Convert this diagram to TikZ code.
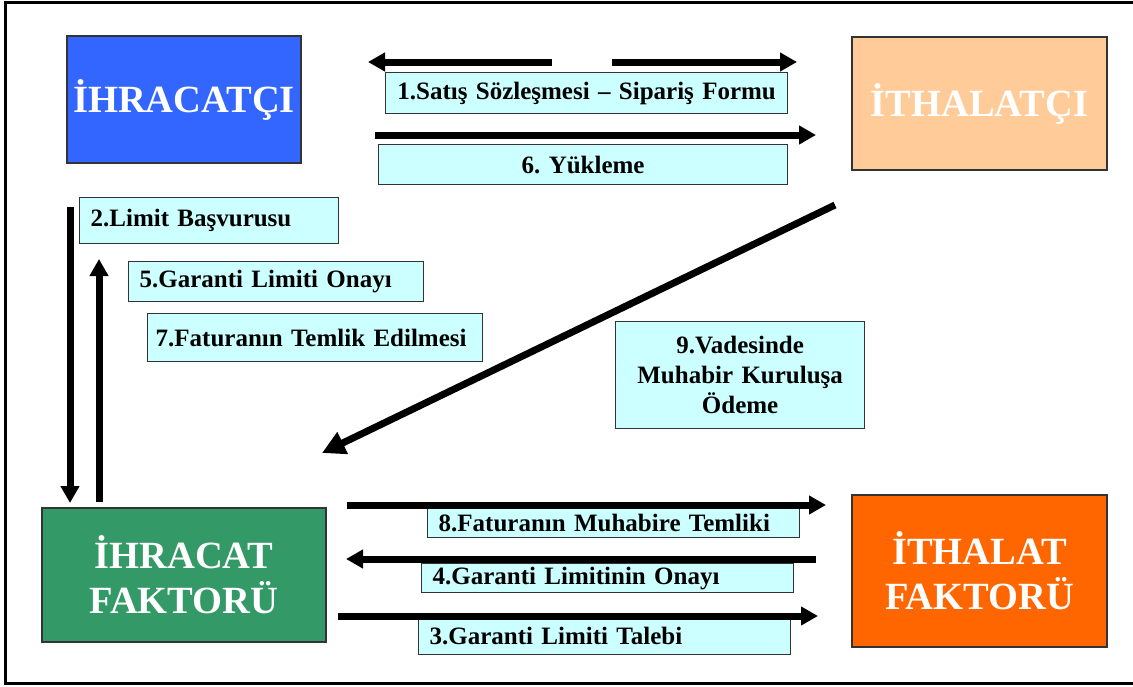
\documentclass[tikz,border=0pt]{standalone}
\usepackage{fontspec}
\setmainfont{Liberation Serif}
\usetikzlibrary{arrows.meta}
\frenchspacing

\definecolor{exblue}{HTML}{3366FF}
\definecolor{impeach}{HTML}{FFCC99}
\definecolor{efgreen}{HTML}{339966}
\definecolor{iforange}{HTML}{FF6600}
\definecolor{lblfill}{HTML}{CCFFFF}
\definecolor{edge}{HTML}{333333}

\tikzset{
  party/.style={draw=edge, line width=1.5pt, text=white, align=center, inner sep=0pt,
    font=\bfseries\fontsize{38.5}{45}\selectfont},
  lbl/.style={draw=edge, fill=lblfill, line width=1.3pt, anchor=north west, inner sep=0pt,
    font=\bfseries\fontsize{25}{30}\selectfont},
  flow/.style={line width=7pt, -{Triangle[length=17pt,width=18pt]}},
  bigflow/.style={line width=7pt, -{Triangle[length=23pt,width=23pt]}},
  frame/.style={line width=3pt}
}

\begin{document}
\begin{tikzpicture}[x=1pt,y=-1pt]
\useasboundingbox (0,0) rectangle (1133,686);
\draw[frame] (5,2) rectangle (1136,683);

% parties
\node[party, fill=exblue, minimum width=234pt, minimum height=127pt] (exp) at (184,99.5) {İHRACATÇI};
\node[party, fill=impeach, minimum width=255pt, minimum height=133pt] (imp) at (979.5,103.5) {İTHALATÇI};
\node[party, fill=efgreen, minimum width=284pt, minimum height=134pt] (ef) at (184,575) {İHRACAT\\FAKTORÜ};
\node[party, fill=iforange, minimum width=255pt, minimum height=152pt] (if) at (979.5,571) {İTHALAT\\FAKTORÜ};

% step labels
\node[lbl, minimum width=402pt, minimum height=41pt, text width=402pt, align=center] (l1) at (385,72) {1.Satış Sözleşmesi – Sipariş Formu};
\node[lbl, minimum width=409pt, minimum height=40pt, text width=409pt, align=center] (l6) at (378,144) {6. Yükleme};
\node[lbl, minimum width=259pt, minimum height=46pt, inner xsep=11pt, text width=237pt, align=left] (l2) at (79,197) {2.Limit Başvurusu};
\node[lbl, minimum width=295pt, minimum height=40pt, inner xsep=11pt, text width=273pt, align=left] (l5) at (128,261) {5.Garanti Limiti Onayı};
\node[lbl, minimum width=335pt, minimum height=48pt, inner xsep=8pt, text width=319pt, align=left] (l7) at (147,313) {7.Faturanın Temlik Edilmesi};
\node[lbl, minimum width=249pt, minimum height=107pt, text width=249pt, align=center] (l9) at (615,321) {9.Vadesinde\\Muhabir Kuruluşa\\Ödeme};
\node[lbl, minimum width=372pt, minimum height=29pt, inner xsep=11pt, text width=350pt, align=left] (l8) at (427,508) {8.Faturanın Muhabire Temliki};
\node[lbl, minimum width=372pt, minimum height=29pt, inner xsep=11pt, text width=350pt, align=left] (l4) at (421,563) {4.Garanti Limitinin Onayı};
\node[lbl, minimum width=372pt, minimum height=37pt, inner xsep=11pt, text width=350pt, align=left] (l3) at (418,617) {3.Garanti Limiti Talebi};

% arrow end points
\coordinate (s1l) at (552,62);  \coordinate (t1l) at (368,62);
\coordinate (s1r) at (612,62);  \coordinate (t1r) at (797,62);
\coordinate (s6) at (375,135);  \coordinate (t6) at (816,135);
\coordinate (s2) at (70,207);   \coordinate (t2) at (70,503);
\coordinate (s5) at (99,502);   \coordinate (t5) at (99,259);
\coordinate (s9) at (835,205);  \coordinate (t9) at (322,453);
\coordinate (s8) at (347,505);  \coordinate (t8) at (826,505);
\coordinate (s4) at (816,559);  \coordinate (t4) at (346,559);
\coordinate (s3) at (338,616);  \coordinate (t3) at (818,616);

% flows
\draw[flow] (s1l) -- (t1l);
\draw[flow] (s1r) -- (t1r);
\draw[flow] (s6) -- (t6);
\draw[flow] (s2) -- (t2);
\draw[flow] (s5) -- (t5);
\draw[bigflow] (s9) -- (t9);
\draw[flow] (s8) -- (t8);
\draw[flow] (s4) -- (t4);
\draw[flow] (s3) -- (t3);
\end{tikzpicture}
\end{document}
